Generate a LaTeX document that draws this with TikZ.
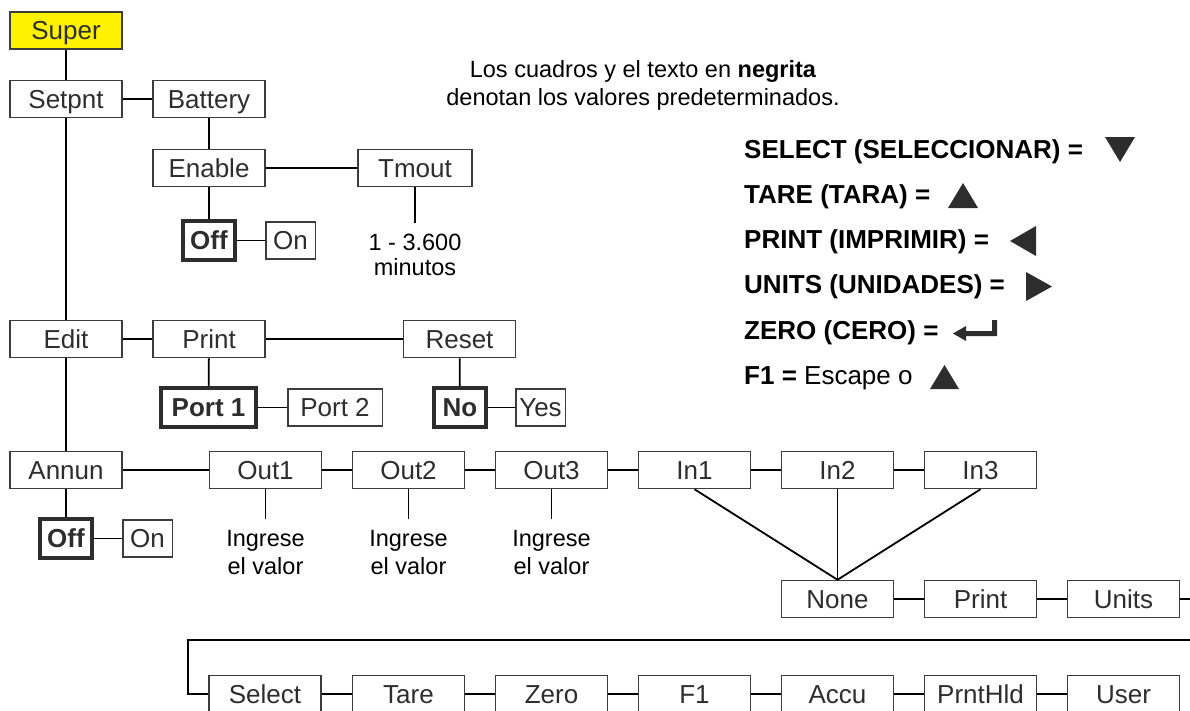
\documentclass[tikz,border=0pt]{standalone}
\usepackage{fontspec}
\setmainfont{Liberation Sans}
\usetikzlibrary{arrows.meta}
\definecolor{boxgray}{RGB}{60,60,60}
\definecolor{txtgray}{RGB}{45,45,45}
\definecolor{superyellow}{RGB}{255,242,0}
\begin{document}
\begin{tikzpicture}[x=1pt,y=-1pt,
  box/.style={draw=boxgray, line width=1.5pt, minimum width=112pt, minimum height=37pt,
    inner sep=0pt, text=txtgray, font=\fontsize{26}{30}\selectfont,
    text height=18.6pt, text depth=0pt},
  defbox/.style={box, line width=4pt, draw=txtgray, minimum height=39pt,
    font=\fontsize{26}{30}\selectfont\bfseries},
  note/.style={inner sep=0pt, align=center, text=black, font=\fontsize{23.5}{25}\selectfont},
  legend/.style={inner sep=0pt, anchor=west, text=black, font=\fontsize{26}{30}\selectfont\bfseries,
    text height=18.6pt, text depth=0pt},
  conn/.style={draw=black, line width=1.8pt},
  tri/.style={fill=txtgray}]
\useasboundingbox (0,0) rectangle (1190,710);
\clip (0,0) rectangle (1190,710);

% top-left tree
\node[box, fill=superyellow] (super) at (66,30.5) {Super};
\node[box] (setpnt) at (66,99) {Setpnt};
\node[box] (battery) at (209,99) {Battery};
\node[box] (enable) at (209,168) {Enable};
\node[box, minimum width=114pt] (tmout) at (415,168) {Tmout};
\node[defbox, minimum width=52pt] (off1) at (209,240.5) {Off};
\node[box, minimum width=49.5pt] (on1) at (290.5,240.5) {On};
\node[note] (tmtxt) at (415,255) {1 - 3.600\\minutos};
\coordinate (tmend) at (415,223);

\draw[conn] (super) -- (setpnt);
\draw[conn] (setpnt) -- (battery);
\draw[conn] (battery) -- (enable);
\draw[conn] (enable) -- (tmout);
\draw[conn] (enable) -- (off1);
\draw[conn] (off1) -- (on1);
\draw[conn] (tmout) -- (tmend);

% edit row
\node[box] (edit) at (66,339) {Edit};
\node[box] (print) at (209,339) {Print};
\node[box] (reset) at (459.5,339) {Reset};
\node[defbox, minimum width=95pt] (port1) at (208.5,407.5) {Port 1};
\node[box, minimum width=94.5pt] (port2) at (335,407.5) {Port 2};
\node[defbox, minimum width=52pt] (no) at (460,407.5) {No};
\node[box, minimum width=49.5pt] (yes) at (540.5,407.5) {Yes};

\draw[conn] (setpnt) -- (edit);
\draw[conn] (edit) -- (print);
\draw[conn] (print) -- (reset);
\draw[conn] (print) -- (port1);
\draw[conn] (port1) -- (port2);
\draw[conn] (reset) -- (no);
\draw[conn] (no) -- (yes);

% annun row
\node[box] (annun) at (66,470) {Annun};
\node[box] (out1) at (265.5,470) {Out1};
\node[box] (out2) at (408.5,470) {Out2};
\node[box] (out3) at (551.5,470) {Out3};
\node[box] (in1) at (694.5,470) {In1};
\node[box] (in2) at (837.5,470) {In2};
\node[box] (in3) at (980.5,470) {In3};
\node[defbox, minimum width=52pt] (off2) at (66,538.5) {Off};
\node[box, minimum width=49.5pt] (on2) at (147.5,538.5) {On};

\draw[conn] (edit) -- (annun);
\draw[conn] (annun) -- (out1);
\draw[conn] (out1) -- (out2);
\draw[conn] (out2) -- (out3);
\draw[conn] (out3) -- (in1);
\draw[conn] (in1) -- (in2);
\draw[conn] (in2) -- (in3);
\draw[conn] (annun) -- (off2);
\draw[conn] (off2) -- (on2);

\node[note, font=\fontsize{23.5}{28}\selectfont] (v1) at (265.5,553) {Ingrese\\el valor};
\node[note, font=\fontsize{23.5}{28}\selectfont] (v2) at (408.5,553) {Ingrese\\el valor};
\node[note, font=\fontsize{23.5}{28}\selectfont] (v3) at (551.5,553) {Ingrese\\el valor};
\coordinate (v1e) at (265.5,519);
\coordinate (v2e) at (408.5,519);
\coordinate (v3e) at (551.5,519);
\draw[conn] (out1) -- (v1e);
\draw[conn] (out2) -- (v2e);
\draw[conn] (out3) -- (v3e);

% none row
\node[box] (none) at (837.5,599) {None};
\node[box] (printb) at (980.5,599) {Print};
\node[box] (units) at (1123.5,599) {Units};
\coordinate (uend) at (1190,599);
\draw[conn] (in1.south) -- (none.north);
\draw[conn] (in2.south) -- (none.north);
\draw[conn] (in3.south) -- (none.north);
\draw[conn] (none) -- (printb);
\draw[conn] (printb) -- (units);
\draw[conn] (units) -- (uend);

% bottom row
\node[box] (select) at (265,694) {Select};
\node[box] (tare) at (408.5,694) {Tare};
\node[box] (zero) at (551.5,694) {Zero};
\node[box] (f1) at (694.5,694) {F1};
\node[box] (accu) at (837.5,694) {Accu};
\node[box] (prnthld) at (980.5,694) {PrntHld};
\node[box] (user) at (1123.5,694) {User};
\coordinate (wr) at (1190,640);
\coordinate (wl) at (188,640);
\draw[conn] (wr) -- (wl) |- (select.west);
\draw[conn] (select) -- (tare);
\draw[conn] (tare) -- (zero);
\draw[conn] (zero) -- (f1);
\draw[conn] (f1) -- (accu);
\draw[conn] (accu) -- (prnthld);
\draw[conn] (prnthld) -- (user);

% note
\node[note, font=\fontsize{23.5}{28}\selectfont] (topnote) at (643,85)
  {Los cuadros y el texto en \textbf{negrita}\\denotan los valores predeterminados.};

% legend
\node[legend] (l1) at (744,149) {SELECT (SELECCIONAR) =};
\node[legend] (l2) at (744,194) {TARE (TARA) =};
\node[legend] (l3) at (744,239) {PRINT (IMPRIMIR) =};
\node[legend] (l4) at (744,284.5) {UNITS (UNIDADES) =};
\node[legend] (l5) at (744,330) {ZERO (CERO) =};
\node[legend] (l6) at (744,375) {F1 =\mdseries{} Escape o};

\fill[tri] (1105,137) -- (1135,137) -- (1120,162) -- cycle;
\fill[tri] (948,208) -- (978,208) -- (963,183) -- cycle;
\fill[tri] (1036,226) -- (1036,256) -- (1010,241) -- cycle;
\fill[tri] (1026,272) -- (1026,301) -- (1052,286.5) -- cycle;
\fill[tri] (930,389) -- (959,389) -- (944.5,365) -- cycle;
\fill[tri] (997,320) -- (997,336) -- (966,336) -- (966,341) -- (953,333.5)
  -- (966,326) -- (966,331) -- (992,331) -- (992,320) -- cycle;
\end{tikzpicture}
\end{document}
